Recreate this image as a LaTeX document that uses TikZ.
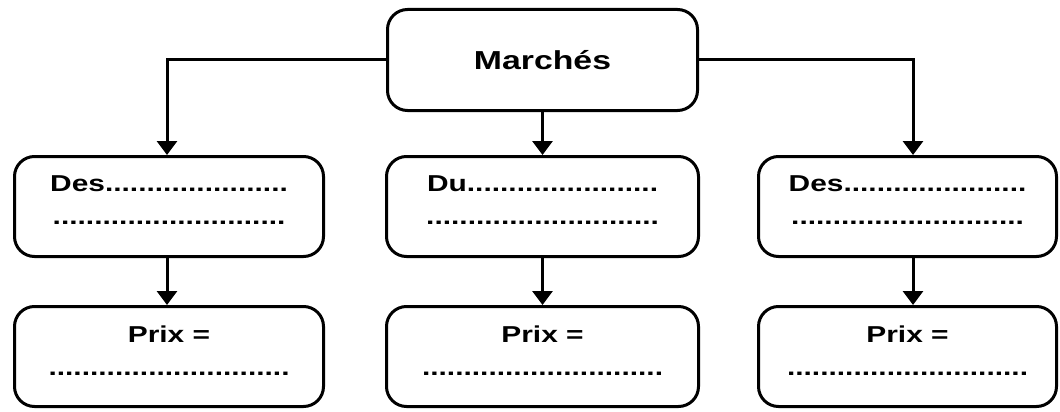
\documentclass[tikz,border=0pt]{standalone}
\usepackage{fontspec}
\newfontfamily\boxfont[FakeStretch=1.3]{Liberation Sans}
\usepackage{tikz}
\usetikzlibrary{positioning, arrows, arrows.meta}

\tikzset{
  boite/.style={draw, line width=3pt, rounded corners=20pt, fill=white,
    minimum height=100pt, align=center, text depth=12pt,
    font=\boxfont\bfseries\fontsize{23}{33}\selectfont},
  fleche/.style={line width=3pt, -{Triangle[width=20pt,length=14pt]}}
}

\begin{document}
\begin{tikzpicture}[x=1pt,y=-1pt]
\useasboundingbox (0,0) rectangle (1060,412);
\node[boite, minimum width=310pt, minimum height=101pt, text depth=0pt,
  font=\boxfont\bfseries\fontsize{26}{30}\selectfont] (marches) at (542.5,60) {Marchés};
\node[boite, minimum width=309pt] (des1) at (169,206.5) {Des......................\\............................};
\node[boite, minimum width=312pt] (du) at (542.5,206.5) {Du.......................\\............................};
\node[boite, minimum width=298pt] (des2) at (907.5,206.5) {Des......................\\............................};
\node[boite, minimum width=309pt] (prix1) at (169,356.5) {Prix =\\.............................};
\node[boite, minimum width=312pt] (prix2) at (542.5,356.5) {Prix =\\.............................};
\node[boite, minimum width=298pt] (prix3) at (907.5,356.5) {Prix =\\.............................};
\draw[fleche] (marches.west) -| ([xshift=-2pt]des1.north);
\draw[fleche] (marches.south) -- (du.north);
\draw[fleche] (marches.east) -| ([xshift=5.5pt]des2.north);
\draw[fleche] ([xshift=-2pt]des1.south) -- ([xshift=-2pt]prix1.north);
\draw[fleche] (du.south) -- (prix2.north);
\draw[fleche] ([xshift=5.5pt]des2.south) -- ([xshift=5.5pt]prix3.north);
\end{tikzpicture}
\end{document}
